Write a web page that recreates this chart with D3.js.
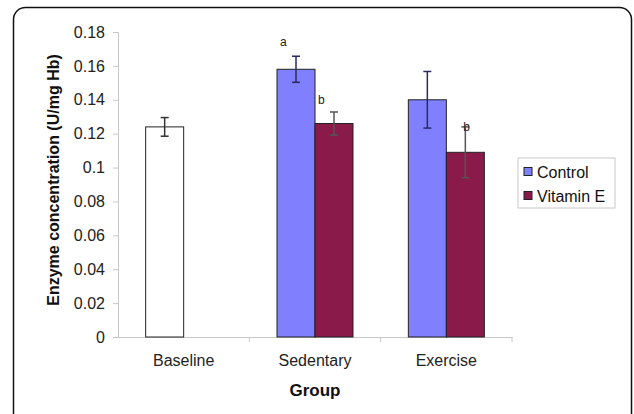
<!DOCTYPE html>
<html>
<head>
<meta charset="utf-8">
<script src="https://cdn.jsdelivr.net/npm/d3@7"></script>
<style>
  body { margin: 0; background: #fff; }
  text { font-family: "Liberation Sans", Arial, sans-serif; }
</style>
</head>
<body>
<svg id="chart" width="634" height="414"></svg>
<script>
const groups = ["Baseline", "Sedentary", "Exercise"];
const series = ["Control", "Vitamin E"];
// value and error (half-length) per group, per series; null = no bar
const controlValues = [0.124, 0.158, 0.140];
const controlErrors = [0.0055, 0.0077, 0.0167];
const vitaminValues = [null, 0.126, 0.109];
const vitaminErrors = [null, 0.0068, 0.0150];
const controlLetters = ["", "a", ""];
const vitaminLetters = ["", "b", "b"];
const yTicks = [0, 0.02, 0.04, 0.06, 0.08, 0.1, 0.12, 0.14, 0.16, 0.18];

const svg = d3.select("#chart");

// outer frame (rounded, bottom cut off by the picture)
svg.append("rect")
    .attr("x", 13.5).attr("y", 7.5)
    .attr("width", 618).attr("height", 440)
    .attr("rx", 12)
    .attr("fill", "none")
    .attr("stroke", "#111")
    .attr("stroke-width", 1.5);

const margin = { left: 118, top: 32, right: 512, bottom: 337 };

const x = d3.scaleBand()
    .domain(groups)
    .range([margin.left, margin.right]);

const xInner = d3.scaleBand()
    .domain(series)
    .range([0, 76]);

const y = d3.scaleLinear()
    .domain([0, 0.18])
    .range([margin.bottom, margin.top]);

const colors = { "Control": "#8080ff", "Vitamin E": "#8a1a4a" };
const errColors = { "Control": "#2a2a60", "Vitamin E": "#555" };

// y axis
const yAxis = svg.append("g")
    .attr("transform", "translate(" + margin.left + ",0)")
    .call(d3.axisLeft(y).tickValues(yTicks).tickSize(5).tickPadding(8)
        .tickFormat(d => d === 0 ? "0" : d3.format("")(+d.toFixed(2))));
yAxis.select(".domain").attr("stroke", "#c8c8c8");
yAxis.selectAll(".tick line").attr("stroke", "#c8c8c8");
yAxis.selectAll(".tick text")
    .attr("font-size", 16)
    .attr("fill", "#222")
    .style("font-family", "'Liberation Sans', Arial, sans-serif");

// x axis
const xAxis = svg.append("g")
    .attr("transform", "translate(0," + margin.bottom + ")")
    .call(d3.axisBottom(x).tickSize(0).tickPadding(18));
xAxis.select(".domain").attr("stroke", "#c8c8c8");
xAxis.selectAll(".tick text")
    .attr("font-size", 16)
    .attr("fill", "#222")
    .style("font-family", "'Liberation Sans', Arial, sans-serif");
// category separators below the axis
svg.append("g")
    .selectAll("line")
    .data(groups)
    .enter()
    .append("line")
    .attr("x1", d => x(d) + x.bandwidth())
    .attr("x2", d => x(d) + x.bandwidth())
    .attr("y1", margin.bottom)
    .attr("y2", margin.bottom + 5)
    .attr("stroke", "#c8c8c8");

// bars
const bars = [];
groups.forEach((g, i) => {
    if (controlValues[i] !== null) bars.push({ group: g, series: "Control", value: controlValues[i], err: controlErrors[i], letter: controlLetters[i], first: i === 0 });
    if (vitaminValues[i] !== null) bars.push({ group: g, series: "Vitamin E", value: vitaminValues[i], err: vitaminErrors[i], letter: vitaminLetters[i], first: false });
});

const cx = d => x(d.group) + x.bandwidth() / 2 - 38 + xInner(d.series);

svg.append("g")
    .selectAll("rect")
    .data(bars)
    .enter()
    .append("rect")
    .attr("x", d => cx(d))
    .attr("y", d => y(d.value))
    .attr("width", xInner.bandwidth())
    .attr("height", d => y(0) - y(d.value))
    .attr("fill", d => d.first ? "#fff" : colors[d.series])
    .attr("stroke", "#222")
    .attr("stroke-width", 1);

// error bars
const err = svg.append("g")
    .selectAll("g")
    .data(bars)
    .enter()
    .append("g")
    .attr("stroke", d => d.first ? "#333" : errColors[d.series])
    .attr("stroke-width", 1.5);
const mid = d => cx(d) + xInner.bandwidth() / 2;
err.append("line")
    .attr("x1", mid).attr("x2", mid)
    .attr("y1", d => y(d.value + d.err))
    .attr("y2", d => y(d.value - d.err));
err.append("line")
    .attr("x1", d => mid(d) - 4).attr("x2", d => mid(d) + 4)
    .attr("y1", d => y(d.value + d.err))
    .attr("y2", d => y(d.value + d.err));
err.append("line")
    .attr("x1", d => mid(d) - 4).attr("x2", d => mid(d) + 4)
    .attr("y1", d => y(d.value - d.err))
    .attr("y2", d => y(d.value - d.err));

// significance letters
svg.append("g")
    .selectAll("text")
    .data(bars.filter(d => d.letter))
    .enter()
    .append("text")
    .attr("x", d => d.series === "Control" ? cx(d) + 3 : (d.group === "Sedentary" ? cx(d) + 3 : mid(d) - 2))
    .attr("y", d => d.series === "Control" ? y(d.value + d.err) - 10 : (d.group === "Sedentary" ? y(d.value) - 20 : y(d.value + d.err) + 4))
    .attr("font-size", 12)
    .attr("fill", "#222")
    .text(d => d.letter);

// axis titles
svg.append("text")
    .attr("transform", "translate(59,180) rotate(-90)")
    .attr("text-anchor", "middle")
    .attr("font-size", 16)
    .attr("font-weight", "bold")
    .attr("fill", "#111")
    .text("Enzyme concentration (U/mg Hb)");

svg.append("text")
    .attr("x", (margin.left + margin.right) / 2)
    .attr("y", 396)
    .attr("text-anchor", "middle")
    .attr("font-size", 17)
    .attr("font-weight", "bold")
    .attr("fill", "#111")
    .text("Group");

// legend
const legend = svg.append("g").attr("transform", "translate(518,158)");
legend.append("rect")
    .attr("width", 97).attr("height", 50)
    .attr("fill", "#fff")
    .attr("stroke", "#c8c8c8");
const item = legend.selectAll("g")
    .data(series)
    .enter()
    .append("g")
    .attr("transform", (d, i) => "translate(6," + (14 + i * 24) + ")");
item.append("rect")
    .attr("x", 0).attr("y", -4.5)
    .attr("width", 8).attr("height", 8)
    .attr("fill", d => colors[d])
    .attr("stroke", "#222");
item.append("text")
    .attr("x", 13)
    .attr("y", 5.5)
    .attr("font-size", 16)
    .attr("fill", "#111")
    .text(d => d);
</script>
</body>
</html>
